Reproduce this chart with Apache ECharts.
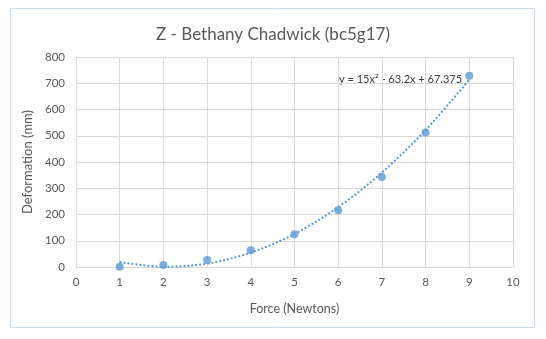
<!DOCTYPE html>
<html><head><meta charset="utf-8">
<script src="https://cdn.jsdelivr.net/npm/echarts@6/dist/echarts.min.js"></script>
<style>html,body{margin:0;padding:0;background:#fff}#c{width:546px;height:339px}</style>
</head><body><div id="c"></div>
<script>
var forceN = [1, 2, 3, 4, 5, 6, 7, 8, 9];
var deformationMm = [1, 8, 27, 64, 125, 216, 343, 512, 729];
var trendValues = [19, 1, 13, 55, 126, 228, 360, 522, 714];
var xTicks = [0, 1, 2, 3, 4, 5, 6, 7, 8, 9, 10];
var yTicks = [0, 100, 200, 300, 400, 500, 600, 700, 800];
var titleText = 'Z - Bethany Chadwick (bc5g17)';
var equationText = 'y = 15x² - 63.2x + 67.375';

var FONT = 'Lato';
var chart = echarts.init(document.getElementById('c'), null, {renderer: 'canvas'});
chart.setOption({
  animation: false,
  title: {text: titleText, left: 'center', top: 21,
    textStyle: {fontFamily: FONT, fontSize: 17, fontWeight: 'normal', color: '#595959'}},
  grid: {left: 76, top: 57, width: 437, height: 210, containLabel: false},
  xAxis: {type: 'value', min: xTicks[0], max: xTicks[xTicks.length-1], interval: 1,
    name: 'Force (Newtons)', nameLocation: 'middle', nameGap: 35,
    nameTextStyle: {fontFamily: FONT, fontSize: 12.5, color: '#595959'},
    axisLine: {show: true, lineStyle: {color: '#d9d9d9', width: 1}},
    axisTick: {show: false},
    axisLabel: {fontFamily: FONT, fontSize: 11.5, color: '#595959', margin: 9},
    splitLine: {show: true, lineStyle: {color: '#d9d9d9', width: 1}}},
  yAxis: {type: 'value', min: yTicks[0], max: yTicks[yTicks.length-1], interval: 100,
    name: 'Deformation (mm)', nameLocation: 'middle', nameGap: 34, nameRotate: 90,
    nameTextStyle: {fontFamily: FONT, fontSize: 13, color: '#595959'},
    axisLine: {show: false}, axisTick: {show: false},
    axisLabel: {fontFamily: FONT, fontSize: 11.5, color: '#595959', margin: 11},
    splitLine: {show: true, lineStyle: {color: '#d9d9d9', width: 1}}},
  series: [
    {type: 'line', data: forceN.map(function(x,i){return [x, trendValues[i]];}),
      smooth: 0.35, showSymbol: false, silent: true,
      lineStyle: {color: '#5b9bd5', width: 2, type: [2, 2]}, z: 2},
    {type: 'scatter', data: forceN.map(function(x,i){return [x, deformationMm[i]];}),
      symbolSize: 8, itemStyle: {color: '#5b9bd5'}, z: 3}
  ],
  graphic: [
    {type: 'rect', shape: {x: 10.5, y: 8.5, width: 524, height: 319},
      style: {fill: null, stroke: '#c9ddf0', lineWidth: 1}, z: -1},
    {type: 'text', left: 339, top: 74,
      style: {text: equationText, fontFamily: FONT, fontSize: 11, fill: '#404040'}}
  ]
});
</script></body></html>
